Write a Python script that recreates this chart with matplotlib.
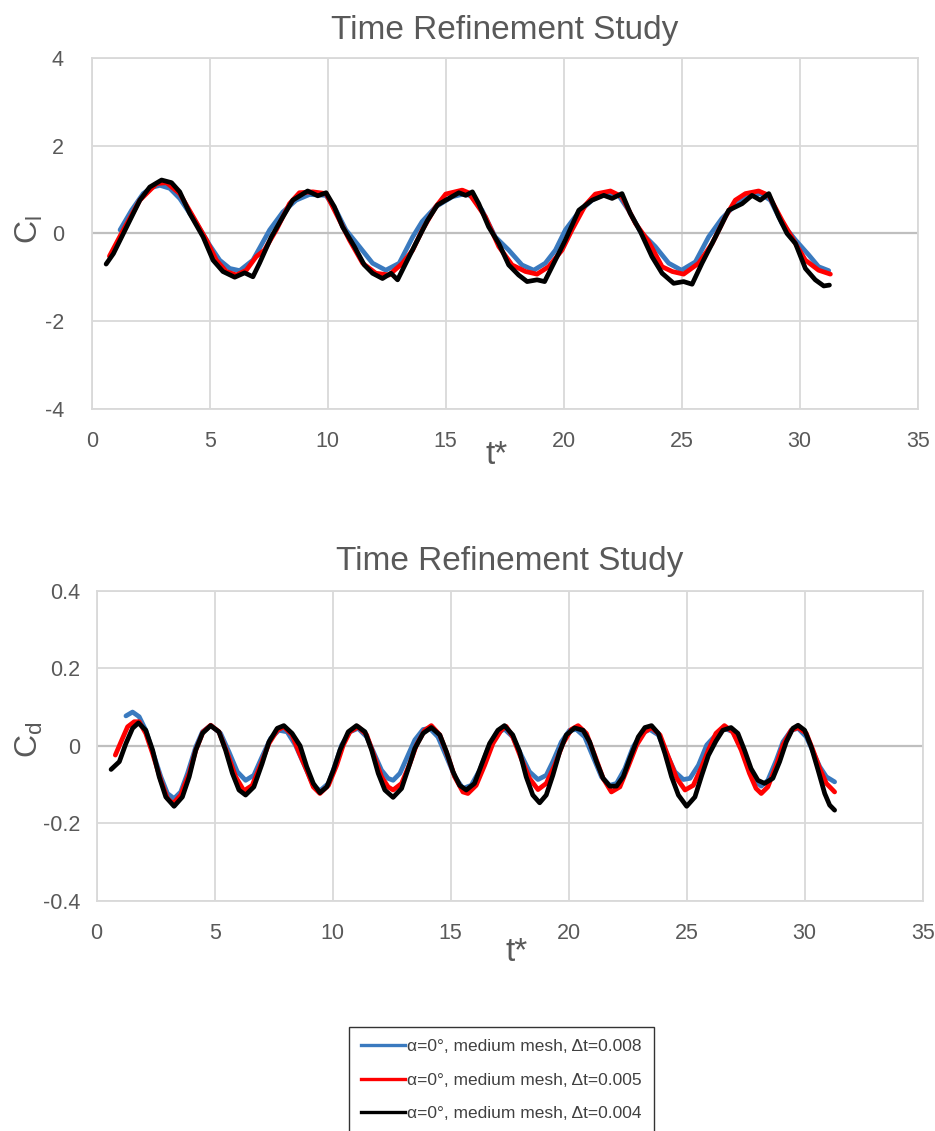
import matplotlib
matplotlib.use("Agg")
import matplotlib.pyplot as plt
from matplotlib.lines import Line2D

plt.rcParams["font.family"] = ["Liberation Sans", "DejaVu Sans"]
plt.rcParams["axes.unicode_minus"] = False

# --- lift coefficient, three time steps ---
t_cl_008 = [1.2, 1.69, 2.18, 2.54, 2.89, 3.31, 3.73, 4.44, 5.0, 5.42, 5.85, 6.27, 6.83, 7.54, 8.1,
            8.66, 9.23, 9.93, 10.35, 10.77, 11.34, 11.9, 12.46, 13.03, 13.6, 14.0, 14.58, 15.28, 15.85,
            16.1, 16.54, 17.1, 17.67, 18.23, 18.73, 19.22, 19.65, 20.07, 20.64, 21.2, 21.77, 22.33, 22.75,
            23.25, 23.88, 24.45, 24.99, 25.58, 26.14, 26.7, 27.27, 27.84, 28.33, 28.76, 29.25, 29.82,
            30.38, 30.8, 31.23]
cl_008 = [0.08, 0.53, 0.91, 1.05, 1.10, 1.03, 0.80, 0.23, -0.27, -0.61, -0.80, -0.85, -0.61, 0.08, 0.49,
          0.76, 0.89, 0.87, 0.53, 0.08, -0.30, -0.68, -0.84, -0.68, -0.08, 0.27, 0.61, 0.84, 0.91,
          0.84, 0.53, -0.08, -0.38, -0.72, -0.84, -0.68, -0.38, 0.08, 0.49, 0.76, 0.91, 0.87, 0.53,
          0.04, -0.30, -0.68, -0.84, -0.65, -0.08, 0.34, 0.65, 0.84, 0.91, 0.76, 0.23, -0.15,
          -0.49, -0.76, -0.85]

t_cl_005 = [0.75, 1.34, 2.04, 2.75, 3.17, 3.73, 4.3, 4.86, 5.28, 5.7, 6.13, 6.55, 6.97, 7.32, 7.82,
            8.38, 8.8, 9.37, 9.93, 10.35, 10.92, 11.48, 12.04, 12.6, 13.17, 13.6, 14.01, 14.58, 15.0, 15.7,
            15.97, 16.68, 17.25, 17.81, 18.38, 18.87, 19.36, 19.93, 20.35, 20.92, 21.34, 21.98, 22.47,
            23.04, 23.6, 24.17, 24.6, 25.08, 25.72, 26.29, 26.85, 27.27, 27.7, 28.26, 28.69, 29.25,
            29.82, 30.24, 30.8, 31.3]
cl_005 = [-0.52, 0.08, 0.76, 1.14, 1.16, 0.91, 0.38, -0.15, -0.61, -0.87, -0.95, -0.84, -0.53, -0.38, 0.08,
          0.68, 0.93, 0.95, 0.91, 0.46, -0.15, -0.68, -0.91, -0.95, -0.68, -0.38, 0.08, 0.61, 0.90, 0.99,
          0.93, 0.38, -0.30, -0.72, -0.87, -0.93, -0.76, -0.38, 0.08, 0.65, 0.90, 0.97, 0.84,
          0.23, -0.19, -0.76, -0.87, -0.93, -0.68, -0.23, 0.38, 0.76, 0.91, 0.97, 0.87, 0.30,
          -0.23, -0.61, -0.84, -0.93]

t_cl_004 = [0.61, 0.92, 1.48, 2.04, 2.46, 2.96, 3.38, 3.73, 4.15, 4.72, 5.14, 5.56, 6.06, 6.48, 6.83,
            7.11, 7.61, 8.1, 8.52, 9.15, 9.58, 9.93, 10.28, 10.63, 11.13, 11.55, 11.9, 12.32, 12.68, 12.96,
            13.31, 13.73, 14.23, 14.65, 15.0, 15.56, 15.85, 16.13, 16.4, 16.82, 17.25, 17.67, 18.09, 18.45,
            18.87, 19.19, 19.58, 20.07, 20.64, 21.2, 21.7, 22.05, 22.47, 22.82, 23.25, 23.74, 24.17, 24.66,
            25.08, 25.44, 25.86, 26.43, 26.99, 27.56, 27.98, 28.33, 28.69, 29.11, 29.46, 29.82, 30.24,
            30.66, 31.02, 31.26]
cl_004 = [-0.70, -0.46, 0.15, 0.76, 1.06, 1.22, 1.16, 0.95, 0.46, -0.08, -0.61, -0.87, -1.00, -0.90, -0.99,
          -0.68, -0.08, 0.38, 0.76, 0.97, 0.86, 0.93, 0.61, 0.15, -0.30, -0.72, -0.91, -1.03, -0.91, -1.06,
          -0.68, -0.23, 0.30, 0.65, 0.76, 0.93, 0.87, 0.95, 0.68, 0.15, -0.23, -0.72, -0.95, -1.10,
          -1.06, -1.10, -0.68, -0.15, 0.53, 0.76, 0.87, 0.80, 0.91, 0.46, 0.04, -0.53, -0.91, -1.14,
          -1.10, -1.16, -0.68, -0.08, 0.53, 0.68, 0.87, 0.76, 0.91, 0.38, 0.0, -0.23, -0.80,
          -1.06, -1.20, -1.18]

# --- drag coefficient, three time steps ---
t_cd_008 = [1.24, 1.52, 1.80, 2.08, 2.37, 2.72, 3.0, 3.28, 3.56, 3.85, 4.2, 4.48, 4.83, 5.25, 5.6,
            5.96, 6.31, 6.66, 7.01, 7.37, 7.72, 8.07, 8.42, 8.77, 9.18, 9.46, 9.82, 10.1, 10.38, 10.73,
            11.08, 11.44, 11.72, 12.07, 12.35, 12.56, 12.85, 13.13, 13.48, 13.83, 14.11, 14.46, 14.82,
            15.18, 15.52, 15.87, 16.23, 16.58, 16.93, 17.28, 17.63, 17.99, 18.34, 18.7, 19.05, 19.33,
            19.69, 20.04, 20.33, 20.68, 21.03, 21.39, 21.74, 22.03, 22.38, 22.73, 23.09, 23.44, 23.8,
            24.15, 24.5, 24.86, 25.14, 25.5, 25.85, 26.24, 26.6, 26.95, 27.31, 27.66, 28.02, 28.16,
            28.44, 28.8, 29.08, 29.43, 29.72, 30.07, 30.35, 30.64, 30.92, 31.27]
cd_008 = [0.077, 0.087, 0.075, 0.040, -0.015, -0.080, -0.123, -0.136, -0.119, -0.071, -0.003, 0.036, 0.052,
          0.032, -0.015, -0.067, -0.089, -0.076, -0.028, 0.019, 0.040, 0.036, 0.002, -0.046, -0.102,
          -0.116, -0.097, -0.050, 0.002, 0.036, 0.045, 0.023, -0.015, -0.063, -0.084, -0.089, -0.071,
          -0.033, 0.015, 0.042, 0.045, 0.023, -0.028, -0.080, -0.110, -0.102, -0.063, -0.007, 0.032,
          0.043, 0.023, -0.024, -0.067, -0.087, -0.076, -0.041, 0.010, 0.040, 0.042, 0.023, -0.028,
          -0.080, -0.102, -0.097, -0.059, -0.003, 0.032, 0.042, 0.028, -0.020, -0.067, -0.087, -0.084,
          -0.050, 0.002, 0.028, 0.045, 0.036, -0.003, -0.054, -0.097, -0.104, -0.089, -0.037, 0.010,
          0.040, 0.045, 0.023, -0.015, -0.054, -0.080, -0.093]

t_cd_005 = [0.79, 1.03, 1.31, 1.59, 1.80, 2.08, 2.37, 2.72, 3.0, 3.24, 3.56, 3.92, 4.2, 4.51, 4.83,
            5.18, 5.54, 5.89, 6.24, 6.59, 6.94, 7.3, 7.65, 7.93, 8.28, 8.56, 8.9, 9.18, 9.46, 9.82,
            10.17, 10.45, 10.73, 11.08, 11.44, 11.72, 12.07, 12.35, 12.56, 12.92, 13.27, 13.55, 13.9,
            14.18, 14.54, 14.89, 15.17, 15.52, 15.73, 16.08, 16.44, 16.79, 17.14, 17.35, 17.63, 17.99,
            18.34, 18.7, 19.05, 19.41, 19.76, 20.11, 20.4, 20.75, 21.1, 21.46, 21.81, 22.17, 22.52,
            22.88, 23.23, 23.51, 23.87, 24.22, 24.58, 24.93, 25.28, 25.64, 25.92, 26.24, 26.6, 26.95,
            27.31, 27.66, 27.94, 28.16, 28.44, 28.8, 29.08, 29.43, 29.72, 30.07, 30.35, 30.64, 30.92,
            31.27]
cd_005 = [-0.024, 0.010, 0.049, 0.062, 0.062, 0.032, -0.020, -0.089, -0.136, -0.149, -0.127, -0.071,
          -0.011, 0.036, 0.053, 0.036, -0.020, -0.080, -0.116, -0.102, -0.050, 0.006, 0.040, 0.049,
          0.028, -0.015, -0.063, -0.106, -0.123, -0.102, -0.050, 0.002, 0.036, 0.049, 0.028, -0.020,
          -0.080, -0.106, -0.114, -0.097, -0.046, 0.002, 0.040, 0.052, 0.028, -0.028, -0.080, -0.119,
          -0.123, -0.102, -0.050, 0.006, 0.040, 0.050, 0.023, -0.033, -0.084, -0.113, -0.097, -0.050,
          0.006, 0.042, 0.052, 0.032, -0.024, -0.084, -0.119, -0.106, -0.054, 0.002, 0.036, 0.047,
          0.028, -0.028, -0.084, -0.114, -0.102, -0.054, -0.011, 0.032, 0.052, 0.036, -0.011, -0.071,
          -0.110, -0.123, -0.106, -0.050, 0.002, 0.040, 0.047, 0.032, -0.011, -0.059, -0.097, -0.119]

t_cd_004 = [0.61, 0.96, 1.24, 1.52, 1.77, 2.08, 2.37, 2.65, 2.93, 3.28, 3.63, 3.92, 4.2, 4.48, 4.83,
            5.18, 5.46, 5.75, 6.03, 6.31, 6.66, 7.01, 7.3, 7.65, 7.93, 8.28, 8.62, 8.9, 9.18, 9.46,
            9.75, 10.03, 10.31, 10.66, 11.01, 11.37, 11.65, 11.93, 12.21, 12.56, 12.92, 13.2, 13.48,
            13.83, 14.18, 14.54, 14.82, 15.1, 15.38, 15.66, 16.01, 16.3, 16.65, 17.0, 17.28, 17.63,
            17.92, 18.2, 18.48, 18.77, 19.05, 19.33, 19.62, 19.9, 20.25, 20.61, 20.89, 21.18, 21.46,
            21.74, 22.03, 22.31, 22.59, 22.95, 23.23, 23.51, 23.8, 24.08, 24.36, 24.65, 25.0, 25.35,
            25.64, 25.92, 26.24, 26.53, 26.88, 27.17, 27.45, 27.73, 28.02, 28.3, 28.65, 28.94, 29.22,
            29.5, 29.72, 30.0, 30.28, 30.57, 30.85, 31.06, 31.27]
cd_004 = [-0.061, -0.041, 0.006, 0.045, 0.059, 0.040, -0.011, -0.080, -0.132, -0.156, -0.132, -0.080,
          -0.011, 0.032, 0.052, 0.036, -0.011, -0.071, -0.114, -0.127, -0.106, -0.046, 0.010, 0.045,
          0.052, 0.032, 0.0, -0.054, -0.097, -0.121, -0.106, -0.063, -0.011, 0.036, 0.052, 0.036,
          -0.011, -0.071, -0.114, -0.133, -0.110, -0.059, -0.007, 0.032, 0.047, 0.028, -0.015, -0.067,
          -0.102, -0.114, -0.097, -0.050, 0.006, 0.040, 0.052, 0.028, -0.015, -0.080, -0.127, -0.147,
          -0.127, -0.076, -0.015, 0.028, 0.046, 0.040, 0.010, -0.041, -0.084, -0.104, -0.104, -0.080,
          -0.033, 0.023, 0.047, 0.052, 0.032, -0.020, -0.080, -0.127, -0.156, -0.132, -0.076, -0.025,
          0.012, 0.040, 0.047, 0.032, -0.011, -0.059, -0.089, -0.097, -0.084, -0.041, 0.010, 0.045,
          0.053, 0.040, -0.003, -0.063, -0.123, -0.153, -0.166]

labels = ["α=0°, medium mesh, Δt=0.008",
          "α=0°, medium mesh, Δt=0.005",
          "α=0°, medium mesh, Δt=0.004"]
colors = ["#3a7abf", "#ff0000", "#000000"]

x_ticks = [0, 5, 10, 15, 20, 25, 30, 35]
cl_ticks = [-4, -2, 0, 2, 4]
cd_ticks = [-0.4, -0.2, 0, 0.2, 0.4]
cd_tick_labels = ["-0.4", "-0.2", "0", "0.2", "0.4"]

TXT = "#595959"
GRID = "#d9d9d9"

fig = plt.figure(figsize=(9.35, 11.31), dpi=100)
ax1 = fig.add_axes([0.0981, 0.6388, 0.8834, 0.3096])
ax2 = fig.add_axes([0.1034, 0.2034, 0.8834, 0.2744])


def style(ax, yticks, ylim):
    ax.set_xlim(0, 35)
    ax.set_ylim(*ylim)
    ax.set_xticks(x_ticks)
    ax.set_yticks(yticks)
    ax.grid(True, color=GRID, linewidth=1.3)
    ax.set_axisbelow(True)
    for sp in ax.spines.values():
        sp.set_color(GRID)
        sp.set_linewidth(1.3)
    ax.axhline(0, color="#bfbfbf", linewidth=1.6, zorder=1)
    ax.tick_params(length=0, labelsize=15.5, labelcolor=TXT)
    ax.tick_params(axis="x", pad=16)


series_cl = [(t_cl_008, cl_008), (t_cl_005, cl_005), (t_cl_004, cl_004)]
series_cd = [(t_cd_008, cd_008), (t_cd_005, cd_005), (t_cd_004, cd_004)]

for (t, v), c in zip(series_cl, colors):
    ax1.plot(t, v, color=c, linewidth=3.4, solid_joinstyle="round", solid_capstyle="round", zorder=3)
for (t, v), c in zip(series_cd, colors):
    ax2.plot(t, v, color=c, linewidth=3.4, solid_joinstyle="round", solid_capstyle="round", zorder=3)

style(ax1, cl_ticks, (-4, 4))
ax1.tick_params(axis="y", pad=20)
style(ax2, cd_ticks, (-0.4, 0.4))
ax2.set_yticklabels(cd_tick_labels)
ax2.tick_params(axis="y", pad=12)

ax1.set_title("Time Refinement Study", fontsize=24, color=TXT, pad=14)
ax2.set_title("Time Refinement Study", fontsize=24, color=TXT, pad=15)

ax1.set_xlabel("t*", fontsize=24, color=TXT, va="center")
ax1.xaxis.set_label_coords(0.49, -0.135)
ax2.set_xlabel("t*", fontsize=24, color=TXT, va="center")
ax2.xaxis.set_label_coords(0.508, -0.165)

ax1.set_ylabel(r"C$_\mathregular{l}$", fontsize=23, color=TXT, va="center")
ax1.yaxis.set_label_coords(-0.075, 0.51)
ax2.set_ylabel(r"C$_\mathregular{d}$", fontsize=23, color=TXT, va="center")
ax2.yaxis.set_label_coords(-0.081, 0.52)

handles = [Line2D([], [], color=c, linewidth=2.4) for c in colors]
leg = fig.legend(handles, labels, loc="upper left", bbox_to_anchor=(349 / 935, 1 - 1027 / 1131),
                 fontsize=12.5, labelcolor="#404040", frameon=True, fancybox=False,
                 edgecolor="#000000", labelspacing=1.05, handlelength=2.5, handletextpad=0.15,
                 borderpad=0.7, borderaxespad=0)
leg.get_frame().set_linewidth(1.0)

fig.savefig("out.png", dpi=100)
